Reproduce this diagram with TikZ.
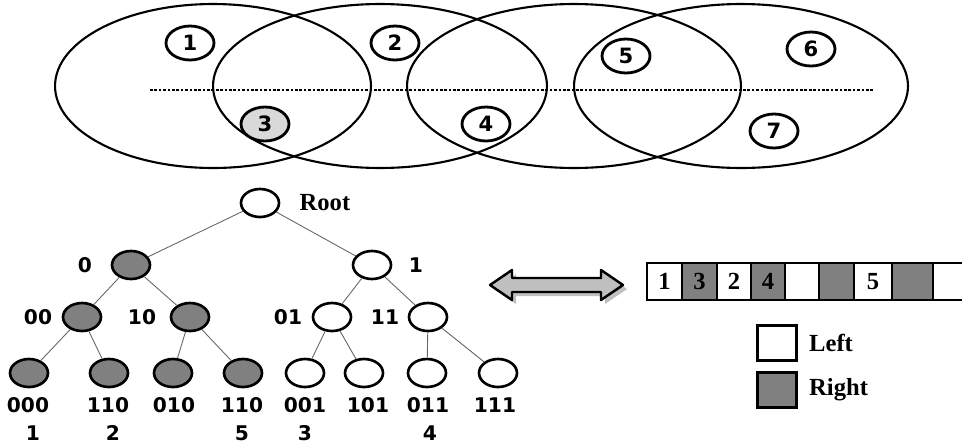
\documentclass[tikz,border=0pt]{standalone}
\usepackage{fontspec}
\setmainfont{Liberation Serif}
\newfontfamily\verd{DejaVu Sans}
\usetikzlibrary{positioning,shapes.geometric,shadows}
\tikzset{
  zone/.style={draw=black, line width=1.2pt},
  site/.style={ellipse, draw=black, line width=1.6pt, fill=white, minimum width=0.96cm,
               minimum height=0.68cm, inner sep=0pt, font=\verd\bfseries\fontsize{12}{14}\selectfont},
  tnode/.style={ellipse, draw=black, line width=1.5pt, fill=white, minimum width=0.76cm,
                minimum height=0.56cm, inner sep=0pt},
  rnode/.style={tnode, fill=gray},
  tlabel/.style={font=\verd\bfseries\fontsize{11.5}{13}\selectfont, inner sep=0pt},
  slabel/.style={font=\bfseries\fontsize{14}{16}\selectfont, inner sep=0pt},
  tedge/.style={draw=black!60, line width=0.5pt},
  cellbox/.style={draw=black, line width=1.5pt},
  keybox/.style={draw=black, line width=1.5pt, minimum width=0.78cm, minimum height=0.7cm, inner sep=0pt}
}

\begin{document}
\begin{tikzpicture}[x=0.02cm,y=-0.02cm]
\useasboundingbox (0,0) rectangle (962,444);
\clip (0,0) rectangle (962,444);
% coverage areas
\draw[zone] (213,86) ellipse (3.16cm and 1.64cm);
\draw[zone] (380,86) ellipse (3.34cm and 1.64cm);
\draw[zone] (574,86) ellipse (3.34cm and 1.64cm);
\draw[zone] (741,86) ellipse (3.34cm and 1.64cm);
\draw[line width=0.6pt, dash pattern=on 1.5pt off 1pt] (150,90) -- (873,90);
% sites
\node[site] (s1) at (190,43) {1};
\node[site] (s2) at (395,43) {2};
\node[site, fill=gray!30] (s3) at (265,124) {3};
\node[site] (s4) at (486,124) {4};
\node[site] (s5) at (626,56) {5};
\node[site] (s6) at (811,49) {6};
\node[site] (s7) at (774,131) {7};
% tree
\node[tnode] (root) at (260,203) {};
\node[slabel, right=0.38cm of root] (rootlab) {Root};
\node[rnode] (n0) at (131,265) {};
\node[tnode] (n1) at (372,265) {};
\node[rnode] (n00) at (82,317) {};
\node[rnode] (n10) at (190,317) {};
\node[tnode] (n01) at (332,317) {};
\node[tnode] (n11) at (428,317) {};
\node[rnode] (n000) at (29,373) {};
\node[rnode] (n110a) at (109,373) {};
\node[rnode] (n010) at (173,373) {};
\node[rnode] (n110b) at (243,373) {};
\node[tnode] (n001) at (305,373) {};
\node[tnode] (n101) at (364,373) {};
\node[tnode] (n011) at (427,373) {};
\node[tnode] (n111) at (498,373) {};
\draw[tedge] (root) -- (n0);
\draw[tedge] (root) -- (n1);
\draw[tedge] (n0) -- (n00);
\draw[tedge] (n0) -- (n10);
\draw[tedge] (n1) -- (n01);
\draw[tedge] (n1) -- (n11);
\draw[tedge] (n00) -- (n000);
\draw[tedge] (n00) -- (n110a);
\draw[tedge] (n10) -- (n010);
\draw[tedge] (n10) -- (n110b);
\draw[tedge] (n01) -- (n001);
\draw[tedge] (n01) -- (n101);
\draw[tedge] (n11) -- (n011);
\draw[tedge] (n11) -- (n111);
% codes
\node[tlabel] (l0) at (85,265) {0};
\node[tlabel] (l1) at (416,265) {1};
\node[tlabel] (l00) at (38,317) {00};
\node[tlabel] (l10) at (142,317) {10};
\node[tlabel] (l01) at (288,317) {01};
\node[tlabel] (l11) at (385,317) {11};
\foreach \n/\x/\t in {a/28/000, b/108/110, c/174/010, d/242/110, e/305/001, f/368/101, g/428/011, h/495/111}
  \node[tlabel] (c\n) at (\x,405) {\t};
\foreach \n/\x/\t in {a/33/1, b/113/2, d/242/5, e/305/3, g/430/4}
  \node[tlabel] (k\n) at (\x,433) {\t};
% mapping
\draw[line width=1.4pt, line join=round, fill=gray!50, drop shadow]
  (490,285) -- (512,270) -- (512,278) -- (601,278) -- (601,270) -- (623,285)
  -- (601,300) -- (601,292) -- (512,292) -- (512,300) -- cycle;
% bit array
\foreach \a/\b/\f/\t in {647/682/white/1, 682/717/gray/3, 717/751/white/2, 751/785/gray/4,
                         785/819/white/{}, 819/854/gray/{}, 854/892/white/5, 892/933/gray/{}, 933/975/white/{}}
  \draw[cellbox, fill=\f] (\a,263) rectangle (\b,300) node[midway, slabel] {\t};
% legend
\node[keybox, fill=white] (kl) at (777,343) {};
\node[keybox, fill=gray] (kr) at (777,390) {};
\node[slabel, right=0.22cm of kl] (left) {Left};
\node[slabel, right=0.22cm of kr] (right) {Right};
\end{tikzpicture}
\end{document}
